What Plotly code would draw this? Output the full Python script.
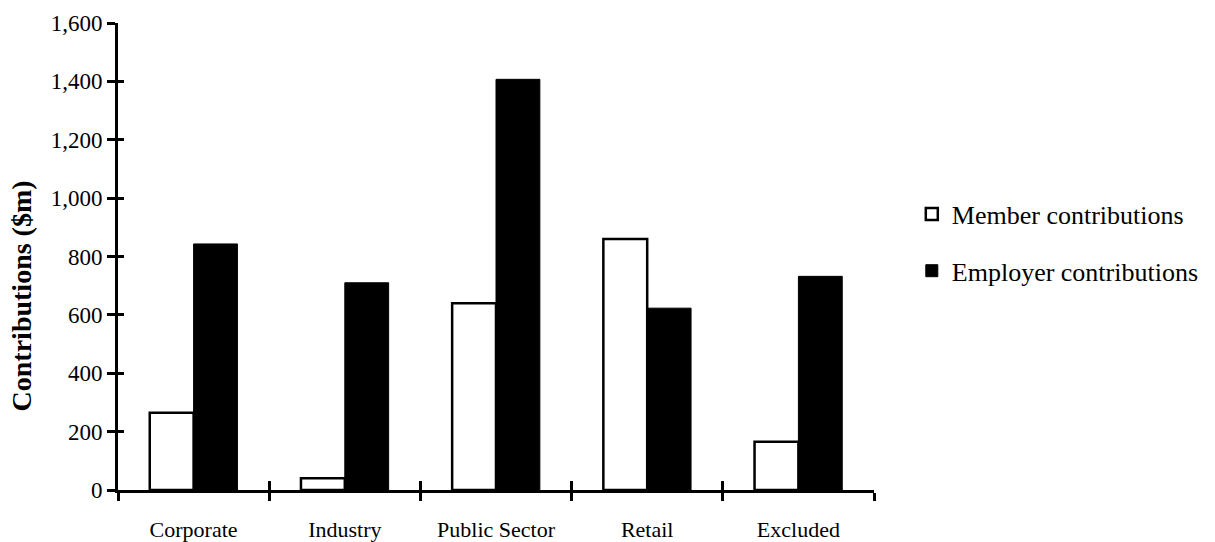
import plotly.graph_objects as go

# Fund sectors and contribution totals ($m)
categories = ["Corporate", "Industry", "Public Sector", "Retail", "Excluded"]
member_contributions = [265, 40, 640, 860, 165]
employer_contributions = [843, 710, 1407, 623, 732]
y_ticks = [0, 200, 400, 600, 800, 1000, 1200, 1400, 1600]

FONT = "Liberation Serif"

fig = go.Figure()

fig.add_trace(go.Bar(
    name="Member contributions",
    x=categories,
    y=member_contributions,
    marker=dict(color="white", line=dict(color="black", width=2.5)),
    legendgroup="member",
))
fig.add_trace(go.Bar(
    name="Employer contributions",
    x=categories,
    y=employer_contributions,
    marker=dict(color="black", line=dict(color="black", width=1)),
    legendgroup="employer",
))

# Invisible helper trace so the overlay axes carry the same categories,
# used to draw the upper/right half of each crossing tick mark.
fig.add_trace(go.Scatter(
    x=categories,
    y=[0] * len(categories),
    xaxis="x2",
    yaxis="y2",
    mode="markers",
    marker=dict(opacity=0),
    showlegend=False,
    hoverinfo="skip",
))

fig.update_layout(
    width=1215,
    height=542,
    margin=dict(l=118, r=341, t=23, b=52, autoexpand=False),
    paper_bgcolor="white",
    plot_bgcolor="white",
    barmode="group",
    bargap=0.42,
    bargroupgap=0,
    font=dict(family=FONT, color="black"),
    showlegend=True,
    legend=dict(
        x=1.05,
        y=0.53,
        xanchor="left",
        yanchor="middle",
        font=dict(family=FONT, size=26, color="black"),
        tracegroupgap=20,
        itemwidth=30,
        bgcolor="rgba(0,0,0,0)",
    ),
    xaxis=dict(
        type="category",
        categoryorder="array",
        categoryarray=categories,
        range=[-0.5, len(categories) - 0.5],
        showline=True,
        linecolor="black",
        linewidth=3,
        ticks="outside",
        tickson="boundaries",
        ticklen=8,
        tickwidth=3,
        tickcolor="black",
        ticklabelstandoff=18,
        showgrid=False,
        zeroline=False,
        tickfont=dict(family=FONT, size=22, color="black"),
    ),
    yaxis=dict(
        range=[0, 1600],
        tickvals=y_ticks,
        tickformat=",d",
        showline=True,
        linecolor="black",
        linewidth=3,
        ticks="outside",
        ticklen=8,
        tickwidth=3,
        tickcolor="black",
        showgrid=False,
        zeroline=False,
        tickfont=dict(family=FONT, size=23, color="black"),
    ),
    xaxis2=dict(
        type="category",
        categoryorder="array",
        categoryarray=categories,
        range=[-0.5, len(categories) - 0.5],
        overlaying="x",
        side="bottom",
        anchor="y2",
        ticks="inside",
        tickson="boundaries",
        ticklen=9,
        tickwidth=3,
        tickcolor="black",
        showticklabels=False,
        showgrid=False,
        zeroline=False,
        showline=False,
    ),
    yaxis2=dict(
        range=[0, 1600],
        tickvals=y_ticks,
        overlaying="y",
        side="left",
        anchor="x2",
        ticks="inside",
        ticklen=6,
        tickwidth=3,
        tickcolor="black",
        showticklabels=False,
        showgrid=False,
        zeroline=False,
        showline=False,
    ),
    annotations=[dict(
        text="<b>Contributions ($m)</b>",
        xref="paper",
        yref="paper",
        x=-0.128,
        y=0.415,
        xanchor="center",
        yanchor="middle",
        textangle=-90,
        showarrow=False,
        font=dict(family=FONT, size=28, color="black"),
    )],
)

fig.write_html("out.html")
